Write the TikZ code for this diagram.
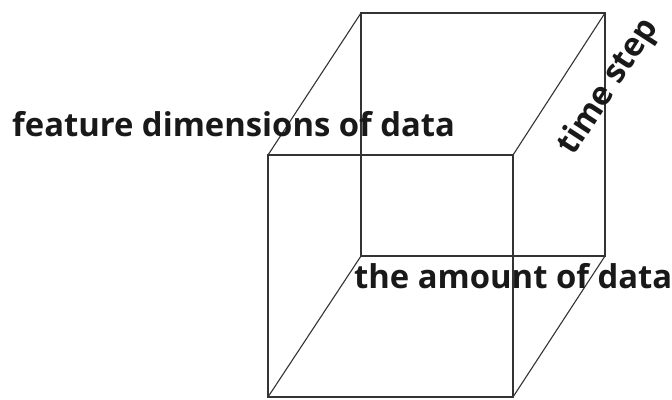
\documentclass[tikz,border=0pt]{standalone}
\usepackage{fontspec}
\setmainfont{Open Sans}
\usetikzlibrary{positioning,calc}

\begin{document}
\begin{tikzpicture}[
  x=1pt, y=-1pt,
  edge/.style={draw=black!80, line width=1.1pt},
  axislabel/.style={font=\bfseries\fontsize{32.8}{38}\selectfont, inner sep=0pt, text=black!90}
]
\useasboundingbox (0,0) rectangle (672,399);
% corners of the cube
\coordinate (ftl) at (268,155);
\coordinate (ftr) at (513,155);
\coordinate (fbl) at (268,397);
\coordinate (fbr) at (513,397);
\coordinate (btl) at (361,13);
\coordinate (btr) at (605,13);
\coordinate (bbl) at (361,256);
\coordinate (bbr) at (605,256);

\draw[edge] (ftl) -- (ftr) -- (fbr) -- (fbl) -- cycle;
\draw[edge] (btl) -- (btr) -- (bbr) -- (bbl) -- cycle;
\foreach \a/\b in {ftl/btl,ftr/btr,fbl/bbl,fbr/bbr}{\draw[edge] (\a) -- (\b);}

\node[axislabel, anchor=west] (feat) at (12,124) {feature dimensions of data};
\node[axislabel, anchor=west] (amount) at (354,276) {the amount of data};
\node[axislabel, rotate=57] (time) at (609,87) {time step};
\end{tikzpicture}
\end{document}
